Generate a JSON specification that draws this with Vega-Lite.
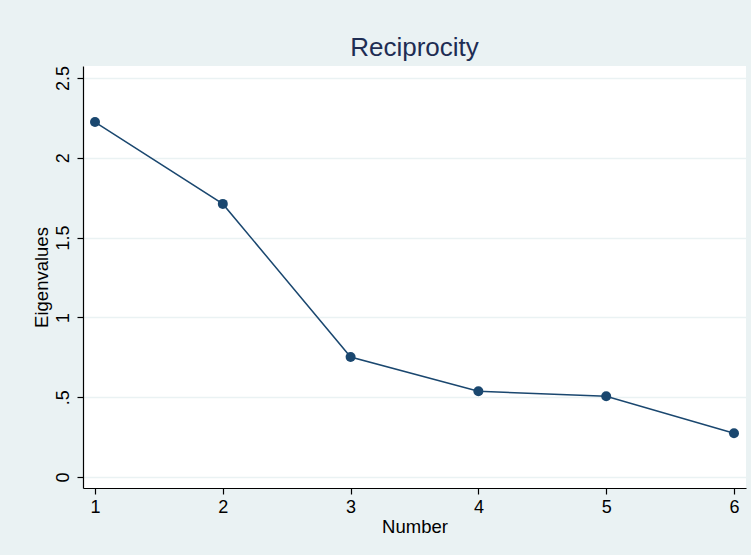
{
  "$schema": "https://vega.github.io/schema/vega-lite/v6.json",
  "autosize": "none",
  "width": 663,
  "height": 422,
  "padding": {"left": 83, "top": 66, "right": 5, "bottom": 67},
  "background": "#EAF2F3",
  "title": {
    "text": "Reciprocity",
    "font": "Liberation Sans",
    "fontSize": 26,
    "fontWeight": "normal",
    "color": "#1E2D53",
    "anchor": "middle",
    "offset": 4
  },
  "config": {
    "view": {"fill": "white", "stroke": null},
    "axis": {
      "labelFont": "Liberation Sans",
      "titleFont": "Liberation Sans",
      "labelFontSize": 18,
      "titleFontSize": 18.5,
      "titleFontWeight": "normal",
      "labelColor": "black",
      "titleColor": "black",
      "domainColor": "black",
      "tickColor": "black",
      "tickSize": 6,
      "domainWidth": 1.2,
      "tickWidth": 1.2
    }
  },
  "data": {
    "values": [
      {"Number": 1, "Eigenvalue": 2.224},
      {"Number": 2, "Eigenvalue": 1.711},
      {"Number": 3, "Eigenvalue": 0.752},
      {"Number": 4, "Eigenvalue": 0.537},
      {"Number": 5, "Eigenvalue": 0.506},
      {"Number": 6, "Eigenvalue": 0.274}
    ]
  },
  "encoding": {
    "x": {
      "field": "Number",
      "type": "quantitative",
      "scale": {"domain": [0.906, 6.094], "nice": false, "zero": false},
      "axis": {
        "values": [1, 2, 3, 4, 5, 6],
        "grid": false,
        "title": "Number",
        "labelPadding": 4,
        "titlePadding": 1
      }
    },
    "y": {
      "field": "Eigenvalue",
      "type": "quantitative",
      "scale": {"domain": [-0.069, 2.575], "nice": false, "zero": false},
      "axis": {
        "values": [0, 0.5, 1, 1.5, 2, 2.5],
        "labelExpr": "datum.value == 0.5 ? '.5' : toString(datum.value)",
        "labelAngle": -90,
        "labelAlign": "center",
        "labelBaseline": "bottom",
        "labelPadding": 5,
        "grid": true,
        "gridColor": "#EAF2F3",
        "gridWidth": 1.5,
        "title": "Eigenvalues",
        "titlePadding": 3
      }
    }
  },
  "layer": [
    {"mark": {"type": "line", "color": "#1A476F", "strokeWidth": 1.5}},
    {"mark": {"type": "point", "filled": true, "color": "#1A476F", "opacity": 1, "size": 100}}
  ]
}
